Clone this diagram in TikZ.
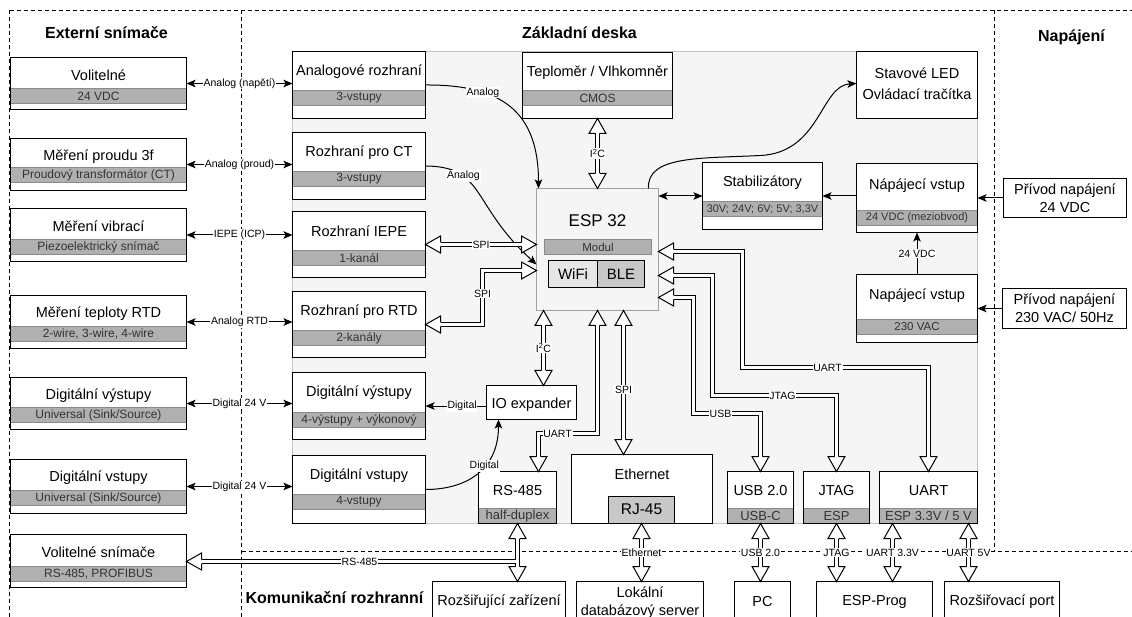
\documentclass[tikz,border=0pt]{standalone}
\usepackage{fontspec}
\setmainfont{Liberation Sans}
\usetikzlibrary{arrows.meta,fit,calc}
\definecolor{panelg}{HTML}{F5F5F5}
\definecolor{paneld}{HTML}{C4C4C4}
\definecolor{bandg}{HTML}{B0B0B0}
\definecolor{bandd}{HTML}{8A8A8A}
\definecolor{txtg}{HTML}{333333}
\definecolor{espd}{HTML}{A0A0A0}
\definecolor{wifig}{HTML}{E6E6E6}
\definecolor{bleg}{HTML}{C8C8C8}
\tikzset{
 box/.style={draw=black, line width=1pt, inner sep=0pt, outer sep=0pt},
 wbox/.style={box, fill=white},
 panel/.style={draw=paneld, fill=panelg, line width=1pt, inner sep=0pt, outer sep=0pt},
 band/.style={fill=bandg, draw=bandd, line width=1pt},
 bandtxt/.style={text=txtg, font=\fontsize{12}{14}\selectfont, inner sep=0pt},
 ttl/.style={font=\fontsize{14.5}{17}\selectfont, inner sep=0pt},
 ttl2/.style={font=\fontsize{14.5}{18}\selectfont, inner sep=0pt, align=center},
 lbl/.style={fill=white, font=\fontsize{10.5}{12}\selectfont, inner sep=0.8pt},
 sect/.style={font=\bfseries\fontsize{16}{19}\selectfont, inner sep=0pt},
 dsh/.style={dash pattern=on 4pt off 3pt, line width=1pt},
 arr/.style={line width=1pt, -{Stealth[length=9pt,width=7.5pt,inset=2pt]}},
 arrb/.style={line width=1pt, {Stealth[length=9pt,width=7.5pt,inset=2pt]}-{Stealth[length=9pt,width=7.5pt,inset=2pt]}},
 busout/.style={draw=black, line width=5pt, line join=miter},
 busin/.style={draw=white, line width=3pt, line join=miter},
 both/.style={shorten <=15pt, shorten >=15pt},
 hhead/.style={fill=white, draw=black, line width=1pt, line join=miter},
}
% hollow arrow head: tip point, direction angle
\newcommand\hh[2]{\begin{scope}[shift={(#1)},rotate=#2]\filldraw[hhead] (-15,2) -- (-15,8.5) -- (0,0) -- (-15,-8.5) -- (-15,-2);\end{scope}}
% hollow bus shaft: [options]{path}
\newcommand\bus[2][]{\draw[busout,#1] #2; \draw[busin,#1] #2;}
% partitioned box: name, x1, y1, x2, y2, band top, title y, title, band text
\newcommand\pb[9]{%
 \fill[white] (#2,#3) rectangle (#4,#5);
 \draw[band] (#2,#6) rectangle (#4,#6+15);
 \node[box, fit={(#2,#3) (#4,#5)}] (#1) {};
 \node[bandtxt] at ({(#2+#4)/2},#6+7.5) {#9};
 \node[ttl] at ({(#2+#4)/2},#7) {#8};}
\begin{document}
\begin{tikzpicture}[x=1pt,y=-1pt]
\useasboundingbox (-0.5,-0.5) rectangle (1131.5,616.5);
\fill[white] (-0.5,-0.5) rectangle (1131.5,616.5);
\clip (-0.5,-0.5) rectangle (1131.5,616.5);

% partitions
\draw[dsh] (9,10) -- (1132,10);
\draw[dsh] (9,10) -- (9,617);
\draw[dsh] (241,10) -- (241,617);
\draw[dsh] (994,10) -- (994,551);
\draw[dsh] (241,551) -- (1132,551);

\node[sect] (tExt) at (106,32) {Externí snímače};
\node[sect] (tZak) at (579,32) {Základní deska};
\node[sect] (tNap) at (1071,37) {Napájení};
\node[sect] (tKom) at (334,597) {Komunikační rozhranní};

% board panel
\node[panel, fit={(292,51) (977,523)}] (board) {};

% external sensors
\pb{ext1}{10}{57}{186}{109}{88}{75}{Volitelné}{24 VDC}
\pb{ext2}{10}{138}{186}{190}{167}{156}{Měření proudu 3f}{Proudový transformátor (CT)}
\pb{ext3}{10}{208}{186}{261}{239}{226}{Měření vibrací}{Piezoelektrický snímač}
\pb{ext4}{10}{295}{186}{348}{326}{313}{Měření teploty RTD}{2-wire, 3-wire, 4-wire}
\pb{ext5}{10}{377}{186}{429}{407}{395}{Digitální výstupy}{Universal (Sink/Source)}
\pb{ext6}{10}{459}{186}{513}{490}{477}{Digitální vstupy}{Universal (Sink/Source)}
\pb{ext7}{10}{534}{186}{587}{566}{552}{Volitelné snímače}{RS-485, PROFIBUS}

% interfaces
\pb{int1}{292}{51}{425}{118}{90}{71}{Analogové rozhraní}{3-vstupy}
\pb{int2}{292}{132}{425}{199}{171}{152}{Rozhraní pro CT}{3-vstupy}
\pb{int3}{292}{211}{425}{277}{250}{231}{Rozhraní IEPE}{1-kanál}
\pb{int4}{292}{291}{425}{357}{330}{311}{Rozhraní pro RTD}{2-kanály}
\pb{int5}{292}{372}{425}{439}{412}{392}{Digitální výstupy}{4-výstupy + výkonový}
\pb{int6}{292}{455}{425}{523}{494}{475}{Digitální vstupy}{4-vstupy}

% board blocks
\pb{temp}{522}{52}{672}{118}{90}{72}{Teploměr / Vlhkomněr}{CMOS}
\pb{stab}{702}{162}{822}{229}{201}{182}{Stabilizátory}{\fontsize{11}{13}\selectfont 30V; 24V; 6V; 5V; 3,3V}
\pb{nap1}{856}{163}{977}{232}{210}{185}{Nápájecí vstup}{\fontsize{11}{13}\selectfont 24 VDC (meziobvod)}
\pb{nap2}{856}{274}{977}{342}{319}{295}{Napájecí vstup}{\fontsize{11.5}{13}\selectfont 230 VAC}
\pb{rs}{478}{471}{556}{523}{508}{490}{RS-485}{\fontsize{13}{15}\selectfont half-duplex}
\pb{usb}{727}{471}{793}{523}{508}{490}{USB 2.0}{\fontsize{13}{15}\selectfont USB-C}
\pb{jtag}{803}{471}{869}{523}{508}{490}{JTAG}{\fontsize{13}{15}\selectfont ESP}
\pb{uart}{879}{471}{977}{523}{508}{490}{UART}{\fontsize{13}{15}\selectfont ESP 3.3V / 5 V}

% ESP 32
\node[box, draw=espd, fill=panelg, fit={(536,188) (658,310)}] (esp) {};
\node[ttl, font=\fontsize{17}{20}\selectfont] (espt) at (597,220) {ESP 32};
\draw[band] (544,239) rectangle (651,254);
\node[bandtxt, font=\fontsize{11.5}{13}\selectfont] (modt) at (597.5,246.5) {Modul};
\node[box, fill=wifig, fit={(548,260) (597,287)}] (wifi) {};
\node[box, fill=bleg, fit={(597,260) (644,287)}] (ble) {};
\node[ttl, font=\fontsize{15}{17}\selectfont] at (wifi.center) {WiFi};
\node[ttl, font=\fontsize{15}{17}\selectfont] at (ble.center) {BLE};

\node[wbox, fit={(856,51) (977,118)}] (led) {};
\node[ttl2, font=\fontsize{14.5}{21}\selectfont] at (916.5,83) {Stavové LED\\Ovládací tračítka};
\node[wbox, fit={(486,385) (576,419)}] (io) {};
\node[ttl] at (531,404) {IO expander};
\node[wbox, fit={(571,454) (712,523)}] (eth) {};
\node[ttl] at (641.5,474) {Ethernet};
\node[box, fill=bleg, fit={(608,496) (674,523)}] (rj) {};
\node[ttl, font=\fontsize{15.5}{17}\selectfont] at (641,509) {RJ-45};

% power supply
\node[wbox, fit={(1003,178) (1126,217)}] (priv1) {};
\node[ttl2] at (priv1.center) {Přívod napájení\\24 VDC};
\node[wbox, fit={(1002,288) (1126,328)}] (priv2) {};
\node[ttl2] at (priv2.center) {Přívod napájení\\230 VAC/ 50Hz};

% communication
\node[wbox, fit={(432,581) (565,621)}] (rz) {};
\node[ttl] at (rz.center) {Rozšiřující zařízení};
\node[wbox, fit={(576,581) (703,621)}] (lok) {};
\node[ttl2] at (639.5,602) {Lokální\\databázový server};
\node[wbox, fit={(734,581) (790,621)}] (pc) {};
\node[ttl] at (pc.center) {PC};
\node[wbox, fit={(816,581) (932,621)}] (prog) {};
\node[ttl] at (prog.center) {ESP-Prog};
\node[wbox, fit={(944,581) (1059,621)}] (port) {};
\node[ttl] at (port.center) {Rozšiřovací port};

% external <-> interfaces
\draw[arrb] (ext1.east) -- (ext1.east -| int1.west) node[lbl, midway] {Analog (napětí)};
\draw[arrb] (ext2.east) -- (ext2.east -| int2.west) node[lbl, midway] {Analog (proud)};
\draw[arrb] (ext3.east) -- (ext3.east -| int3.west) node[lbl, midway] {IEPE (ICP)};
\draw[arrb] (ext4.east) -- (ext4.east -| int4.west) node[lbl, midway] {Analog RTD};
\draw[arrb] (ext5.east) -- (ext5.east -| int5.west) node[lbl, midway] {Digital 24 V};
\draw[arrb] (ext6.east) -- (ext6.east -| int6.west) node[lbl, midway] {Digital 24 V};

% analog curves
\draw[arr] (int1.east) .. controls (500,84) and (538,110) .. ($(esp.north)+(-59,0)$) node[lbl, pos=0.3] {Analog};
\draw[arr] (int2.east) .. controls (485,166) and (470,204) .. ($(esp.west)+(0,15)$) node[lbl, pos=0.3] {Analog};
\draw[arr] ($(esp.north)+(51,0)$) .. controls (646,155) and (700,158) .. (760,155) .. controls (820,152) and (820,85) .. ($(led.west)+(0,-1.5)$);

% digital
\draw[arr] (int5.east -| io.west) -- (int5.east) node[lbl, pos=0.4] {Digital};
\draw[arr] (int6.east) .. controls (465,489) and (498,470) .. ($(io.south)+(-33,0)$) node[lbl, pos=0.6] {Digital};

% power
\draw[arr] (priv1.west) -- (priv1.west -| nap1.east);
\draw[arr] (priv2.west) -- (priv2.west -| nap2.east);
\draw[arr] (nap2.north) -- (nap1.south) node[lbl, midway] {24 VDC};
\draw[arr] (stab.east -| nap1.west) -- (stab.east);
\draw[arrb] (stab.west) -- (stab.west -| esp.east);

% hollow buses
\coordinate (k1) at (482,270);
\coordinate (k2) at ($(io.north)+(12,0)$);
\coordinate (k3) at (597,433);
\coordinate (k4) at ($(rs.north)+(21,0)$);
\coordinate (k5) at ($(esp.south)+(26,0)$);
\coordinate (e1) at ($(esp.east)+(0,2)$);
\coordinate (e2) at ($(esp.east)+(0,26)$);
\coordinate (e3) at ($(esp.east)+(0,48)$);
\coordinate (u1) at (742,367);
\coordinate (j1) at (712,395);
\coordinate (s1) at (693,413);
\coordinate (ua) at ($(uart.south)+(-36,0)$);
\coordinate (ub) at ($(uart.south)+(40,0)$);
\coordinate (rb) at ($(rs.south)+(-1.5,38)$);

\bus[both]{(int3.east) -- (int3.east -| esp.west)}
\path (int3.east) -- (int3.east -| esp.west) node[lbl, midway] {SPI};
\hh{int3.east}{180} \hh{int3.east -| esp.west}{0}
\bus[both]{(int4.east) -| (k1) -- (k1 -| esp.west)}
\node[lbl] at (482,293) {SPI};
\hh{int4.east}{180} \hh{k1 -| esp.west}{0}
\bus[both]{(temp.south) -- (esp.north)}
\path (temp.south) -- (esp.north) node[lbl, midway] {I\textsuperscript{2}C};
\hh{temp.south}{90} \hh{esp.north}{-90}
\bus[both]{(k2 |- esp.south) -- (k2)}
\path (k2 |- esp.south) -- (k2) node[lbl, midway] {I\textsuperscript{2}C};
\hh{k2 |- esp.south}{90} \hh{k2}{-90}
\bus[both]{(esp.south) -- (k3) -| (k4)}
\node[lbl] at (557,433) {UART};
\hh{esp.south}{90} \hh{k4}{-90}
\bus[both]{(k5) -- (k5 |- eth.north)}
\node[lbl] at (623,389) {SPI};
\hh{k5}{90} \hh{k5 |- eth.north}{-90}
\bus[both]{(e1) -| (u1) -| (uart.north)}
\node[lbl] at (827,367) {UART};
\hh{e1}{180} \hh{uart.north}{-90}
\bus[both]{(e2) -| (j1) -| (jtag.north)}
\node[lbl] at (782,395) {JTAG};
\hh{e2}{180} \hh{jtag.north}{-90}
\bus[both]{(e3) -| (s1) -| (usb.north)}
\node[lbl] at (720,413) {USB};
\hh{e3}{180} \hh{usb.north}{-90}

% bottom
\bus[both]{(rs.south) -- (rs.south |- rz.north)}
\hh{rs.south}{90} \hh{rs.south |- rz.north}{-90}
\bus[shorten >=15pt]{(rb) -- (rb -| ext7.east)}
\path (rb) -- (rb -| ext7.east) node[lbl, pos=0.475] {RS-485};
\hh{rb -| ext7.east}{180}
\bus[both]{(rj.south) -- (rj.south |- lok.north)}
\path (rj.south) -- (rj.south |- lok.north) node[lbl, midway] {Ethernet};
\hh{rj.south}{90} \hh{rj.south |- lok.north}{-90}
\bus[both]{(usb.south) -- (usb.south |- pc.north)}
\path (usb.south) -- (usb.south |- pc.north) node[lbl, midway] {USB 2.0};
\hh{usb.south}{90} \hh{usb.south |- pc.north}{-90}
\bus[both]{(jtag.south) -- (jtag.south |- prog.north)}
\path (jtag.south) -- (jtag.south |- prog.north) node[lbl, midway] {JTAG};
\hh{jtag.south}{90} \hh{jtag.south |- prog.north}{-90}
\bus[both]{(ua) -- (ua |- prog.north)}
\path (ua) -- (ua |- prog.north) node[lbl, midway] {UART 3.3V};
\hh{ua}{90} \hh{ua |- prog.north}{-90}
\bus[both]{(ub) -- (ub |- port.north)}
\path (ub) -- (ub |- port.north) node[lbl, midway] {UART 5V};
\hh{ub}{90} \hh{ub |- port.north}{-90}
\end{tikzpicture}
\end{document}
